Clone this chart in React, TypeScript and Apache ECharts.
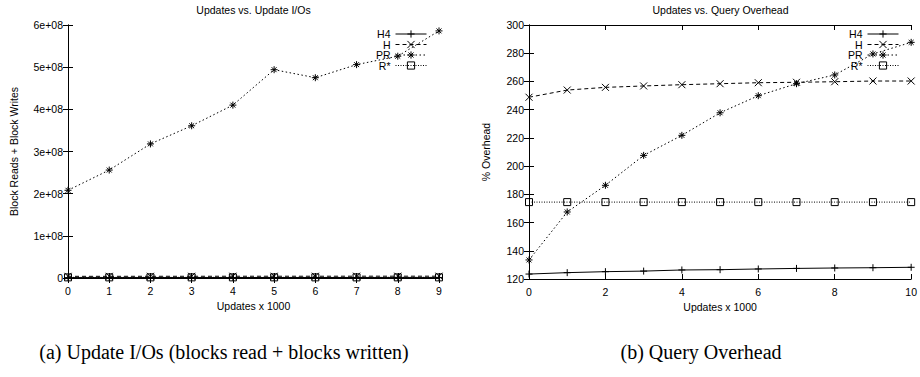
import React, { useEffect, useRef } from "react";
import * as echarts from "echarts";

// ---- Data: (a) Updates vs. Update I/Os ----
const ioX = [0, 1, 2, 3, 4, 5, 6, 7, 8, 9];
const ioH4 = [1.0e6, 1.0e6, 1.1e6, 1.1e6, 1.1e6, 1.2e6, 1.2e6, 1.2e6, 1.3e6, 1.3e6];
const ioH = [4.0e6, 4.0e6, 4.1e6, 4.1e6, 4.2e6, 4.2e6, 4.2e6, 4.3e6, 4.3e6, 4.3e6];
const ioPR = [2.08e8, 2.56e8, 3.18e8, 3.61e8, 4.1e8, 4.94e8, 4.75e8, 5.06e8, 5.26e8, 5.86e8];
const ioRS = [1.5e6, 1.5e6, 1.5e6, 1.5e6, 1.5e6, 1.5e6, 1.5e6, 1.5e6, 1.5e6, 1.5e6];

// ---- Data: (b) Updates vs. Query Overhead ----
const ovX = [0, 1, 2, 3, 4, 5, 6, 7, 8, 9, 10];
const ovH4 = [123.5, 124.5, 125.2, 125.6, 126.4, 126.6, 127.1, 127.5, 127.8, 128.0, 128.3];
const ovH = [248.8, 253.9, 255.8, 256.8, 257.7, 258.4, 259.1, 259.4, 259.8, 260.3, 260.3];
const ovPR = [133.5, 167.5, 186.4, 207.6, 221.8, 237.8, 249.9, 258.4, 264.6, 279.5, 287.7];
const ovRS = [174.5, 174.5, 174.5, 174.5, 174.5, 174.5, 174.5, 174.5, 174.5, 174.5, 174.5];

const seriesNames = ["H4", "H", "PR", "R*"];
const ioTitle = "Updates vs. Update I/Os";
const ovTitle = "Updates vs. Query Overhead";
const xName = "Updates x 1000";
const ioYName = "Block Reads + Block Writes";
const ovYName = "% Overhead";
const captionA = "(a) Update I/Os (blocks read + blocks written)";
const captionB = "(b) Query Overhead";

const SANS = "Liberation Sans";
const SERIF = "Liberation Serif";
const FS = 10.5;

const SYM_PLUS = "path://M0,5L10,5M5,0L5,10";
const SYM_X = "path://M0,0L10,10M10,0L0,10";
const SYM_STAR = "path://M0,5L10,5M5,0L5,10M1.5,1.5L8.5,8.5M8.5,1.5L1.5,8.5";
const SYM_BOX = "path://M0,0L10,0M10,0L10,10M10,10L0,10M0,10L0,0";

const styles: Record<string, { symbol: string; size: number; type: any }> = {
  H4: { symbol: SYM_PLUS, size: 7, type: "solid" },
  H: { symbol: SYM_X, size: 7, type: [4, 3] },
  PR: { symbol: SYM_STAR, size: 7, type: [1.5, 2.5] },
  "R*": { symbol: SYM_BOX, size: 7, type: [1, 1.5] },
};

function mkSeries(name: string, xs: number[], ys: number[], axisIdx: number) {
  const st = styles[name];
  return {
    type: "line",
    name,
    xAxisIndex: axisIdx,
    yAxisIndex: axisIdx,
    data: xs.map((x, i) => [x, ys[i]]),
    symbol: st.symbol,
    symbolSize: st.size,
    showSymbol: true,
    showAllSymbol: true,
    clip: false,
    lineStyle: { color: "#000", width: 1, type: st.type },
    itemStyle: { color: "#000", borderColor: "#000", borderWidth: 1 },
    emphasis: { disabled: true },
  };
}

function axisCommon(show: boolean) {
  return {
    axisLine: { show: true, lineStyle: { color: "#000", width: 1 } },
    axisTick: { show: true, inside: true, length: 5, lineStyle: { color: "#000", width: 1 } },
    axisLabel: { show, color: "#000", fontFamily: SANS, fontSize: FS },
    splitLine: { show: false },
    nameTextStyle: { color: "#000", fontFamily: SANS, fontSize: FS },
  };
}

const legendTops = [28.5, 39, 49.5, 60];

function mkLegends(right: number) {
  return seriesNames.map((n, i) => ({
    data: [n],
    orient: "vertical",
    right,
    top: legendTops[i],
    align: "right",
    padding: 0,
    itemWidth: 31,
    itemHeight: 9,
    selectedMode: false,
    textStyle: { color: "#000", fontFamily: SANS, fontSize: FS, lineHeight: 10 },
    itemStyle: { color: "#000", borderColor: "#000", borderWidth: 1 },
    lineStyle: { color: "#000", width: 1, type: styles[n].type },
  }));
}

export default function App() {
  const ref = useRef<HTMLDivElement>(null);
  useEffect(() => {
    if (!ref.current) return;
    const chart = echarts.init(ref.current, undefined, { renderer: "svg" });
    const option: any = {
      animation: false,
      backgroundColor: "#fff",
      grid: [
        { left: 68, top: 25, width: 371, height: 253 },
        { left: 529, top: 25, width: 383, height: 254 },
      ],
      xAxis: [
        {
          gridIndex: 0, type: "value", min: 0, max: 9, interval: 1, position: "bottom",
          name: xName, nameLocation: "middle", nameGap: 21,
          ...axisCommon(true),
          axisLabel: { ...axisCommon(true).axisLabel, margin: 7 },
        },
        {
          gridIndex: 1, type: "value", min: 0, max: 10, interval: 2, position: "bottom",
          name: xName, nameLocation: "middle", nameGap: 21,
          ...axisCommon(true),
          axisLabel: { ...axisCommon(true).axisLabel, margin: 7 },
        },
        { gridIndex: 0, type: "value", min: 0, max: 9, interval: 1, position: "top", ...axisCommon(false) },
        { gridIndex: 1, type: "value", min: 0, max: 10, interval: 2, position: "top", ...axisCommon(false) },
      ],
      yAxis: [
        {
          gridIndex: 0, type: "value", min: 0, max: 6e8, interval: 1e8, position: "left",
          name: ioYName, nameLocation: "middle", nameGap: 49,
          ...axisCommon(true),
          axisLabel: {
            ...axisCommon(true).axisLabel, margin: 5,
            formatter: (v: number) => (v === 0 ? "0" : `${Math.round(v / 1e8)}e+08`),
          },
        },
        {
          gridIndex: 1, type: "value", min: 120, max: 300, interval: 20, position: "left",
          name: ovYName, nameLocation: "middle", nameGap: 38,
          ...axisCommon(true),
          axisLabel: { ...axisCommon(true).axisLabel, margin: 5 },
        },
        { gridIndex: 0, type: "value", min: 0, max: 6e8, interval: 1e8, position: "right", ...axisCommon(false) },
        { gridIndex: 1, type: "value", min: 120, max: 300, interval: 20, position: "right", ...axisCommon(false) },
      ],
      legend: [...mkLegends(920 - 427), ...mkLegends(920 - 899)],
      series: [
        mkSeries("H4", ioX, ioH4, 0),
        mkSeries("H", ioX, ioH, 0),
        mkSeries("PR", ioX, ioPR, 0),
        mkSeries("R*", ioX, ioRS, 0),
        mkSeries("H4", ovX, ovH4, 1),
        mkSeries("H", ovX, ovH, 1),
        mkSeries("PR", ovX, ovPR, 1),
        mkSeries("R*", ovX, ovRS, 1),
      ],
      graphic: [
        {
          type: "text", x: 253.5, y: 10,
          style: { text: ioTitle, fill: "#000", font: `${FS}px "${SANS}"`, textAlign: "center", textVerticalAlign: "middle" },
        },
        {
          type: "text", x: 720.5, y: 10,
          style: { text: ovTitle, fill: "#000", font: `${FS}px "${SANS}"`, textAlign: "center", textVerticalAlign: "middle" },
        },
        {
          type: "text", x: 224, y: 352,
          style: { text: captionA, fill: "#000", font: `20px "${SERIF}"`, textAlign: "center", textVerticalAlign: "middle" },
        },
        {
          type: "text", x: 701, y: 352,
          style: { text: captionB, fill: "#000", font: `20px "${SERIF}"`, textAlign: "center", textVerticalAlign: "middle" },
        },
      ],
    };
    chart.setOption(option);
    return () => chart.dispose();
  }, []);
  return (
    <div
      ref={ref}
      style={{ position: "absolute", left: 0, top: 0, width: 920, height: 377, background: "#fff" }}
    />
  );
}
